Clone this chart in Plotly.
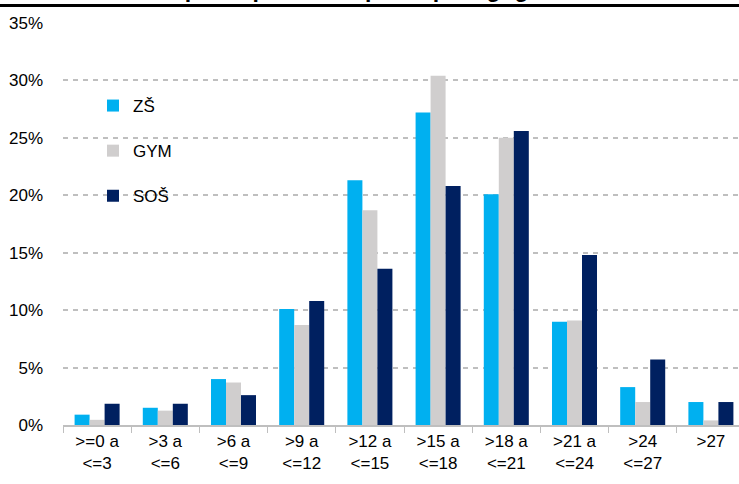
import plotly.graph_objects as go

categories = [">=0 a<br><=3", ">3 a<br><=6", ">6 a<br><=9", ">9 a<br><=12", ">12 a<br><=15",
              ">15 a<br><=18", ">18 a<br><=21", ">21 a<br><=24", ">24<br><=27", ">27"]
zs = [0.9, 1.5, 4.0, 10.1, 21.3, 27.2, 20.1, 9.0, 3.3, 2.0]
gym = [0.45, 1.25, 3.7, 8.7, 18.7, 30.4, 25.0, 9.1, 2.0, 0.4]
sos = [1.85, 1.85, 2.6, 10.8, 13.6, 20.8, 25.6, 14.8, 5.7, 2.0]
series_names = ["ZŠ", "GYM", "SOŠ"]
colors = ["#00B0F0", "#D0CECE", "#002060"]
y_ticks = [0, 5, 10, 15, 20, 25, 30, 35]
y_tick_labels = [f"{v}%" for v in y_ticks]
title_text = "23. Četnost škol podle průměrné praxe pedagogů?"

FONT = "Arial, Liberation Sans, sans-serif"

fig = go.Figure()
for name, vals, col in zip(series_names, [zs, gym, sos], colors):
    fig.add_trace(go.Bar(
        x=categories, y=vals, name=name, legendgroup=name,
        marker=dict(color=col, line=dict(width=0)),
    ))

W, H = 739, 484
ml, mt, mb = 63, 23, 59
plot_w = W - ml
plot_h = H - mt - mb
cat_px = 68.2

fig.update_layout(
    width=W, height=H,
    margin=dict(l=ml, r=0, t=mt, b=mb, pad=0),
    paper_bgcolor="white", plot_bgcolor="white",
    barmode="group", bargap=0.34, bargroupgap=0,
    font=dict(family=FONT, size=17, color="#000000"),
    showlegend=True,
    legend=dict(
        x=(93 - ml) / plot_w, y=1 - (88 - mt) / plot_h, xanchor="left", yanchor="top",
        bgcolor="rgba(0,0,0,0)", font=dict(size=17, family=FONT),
        tracegroupgap=20, itemwidth=30,
    ),
    xaxis=dict(
        type="category", range=[-0.5, -0.5 + plot_w / cat_px], automargin=False,
        tickson="boundaries", ticks="outside", ticklen=6, tickcolor="#BFBFBF",
        tickwidth=1, showline=True, linecolor="#BFBFBF", linewidth=1.5,
        showgrid=False, tickfont=dict(size=17, family=FONT),
    ),
    yaxis=dict(
        range=[0, 35], tickvals=y_ticks, ticktext=y_tick_labels, automargin=False,
        showgrid=True, gridcolor="#BFBFBF", gridwidth=1.5, griddash="5px,5px",
        zeroline=False, showline=False, ticks="", ticklabelstandoff=19,
        tickfont=dict(size=17, family=FONT),
    ),
)

# header rule and clipped title
line_y = 1 + (mt - 5.5) / plot_h
fig.add_shape(type="line", xref="paper", yref="paper",
              x0=-ml / plot_w, x1=1, y0=line_y, y1=line_y,
              line=dict(color="black", width=3))
fig.add_annotation(text=f"<b>{title_text}</b>", xref="paper", yref="paper",
                   x=-ml / plot_w, y=line_y, xanchor="left", yanchor="bottom",
                   yshift=1, showarrow=False, font=dict(size=23, family=FONT, color="black"))

fig.write_html("out.html", config={"displayModeBar": False},
               post_script="document.body.style.margin='0';")
